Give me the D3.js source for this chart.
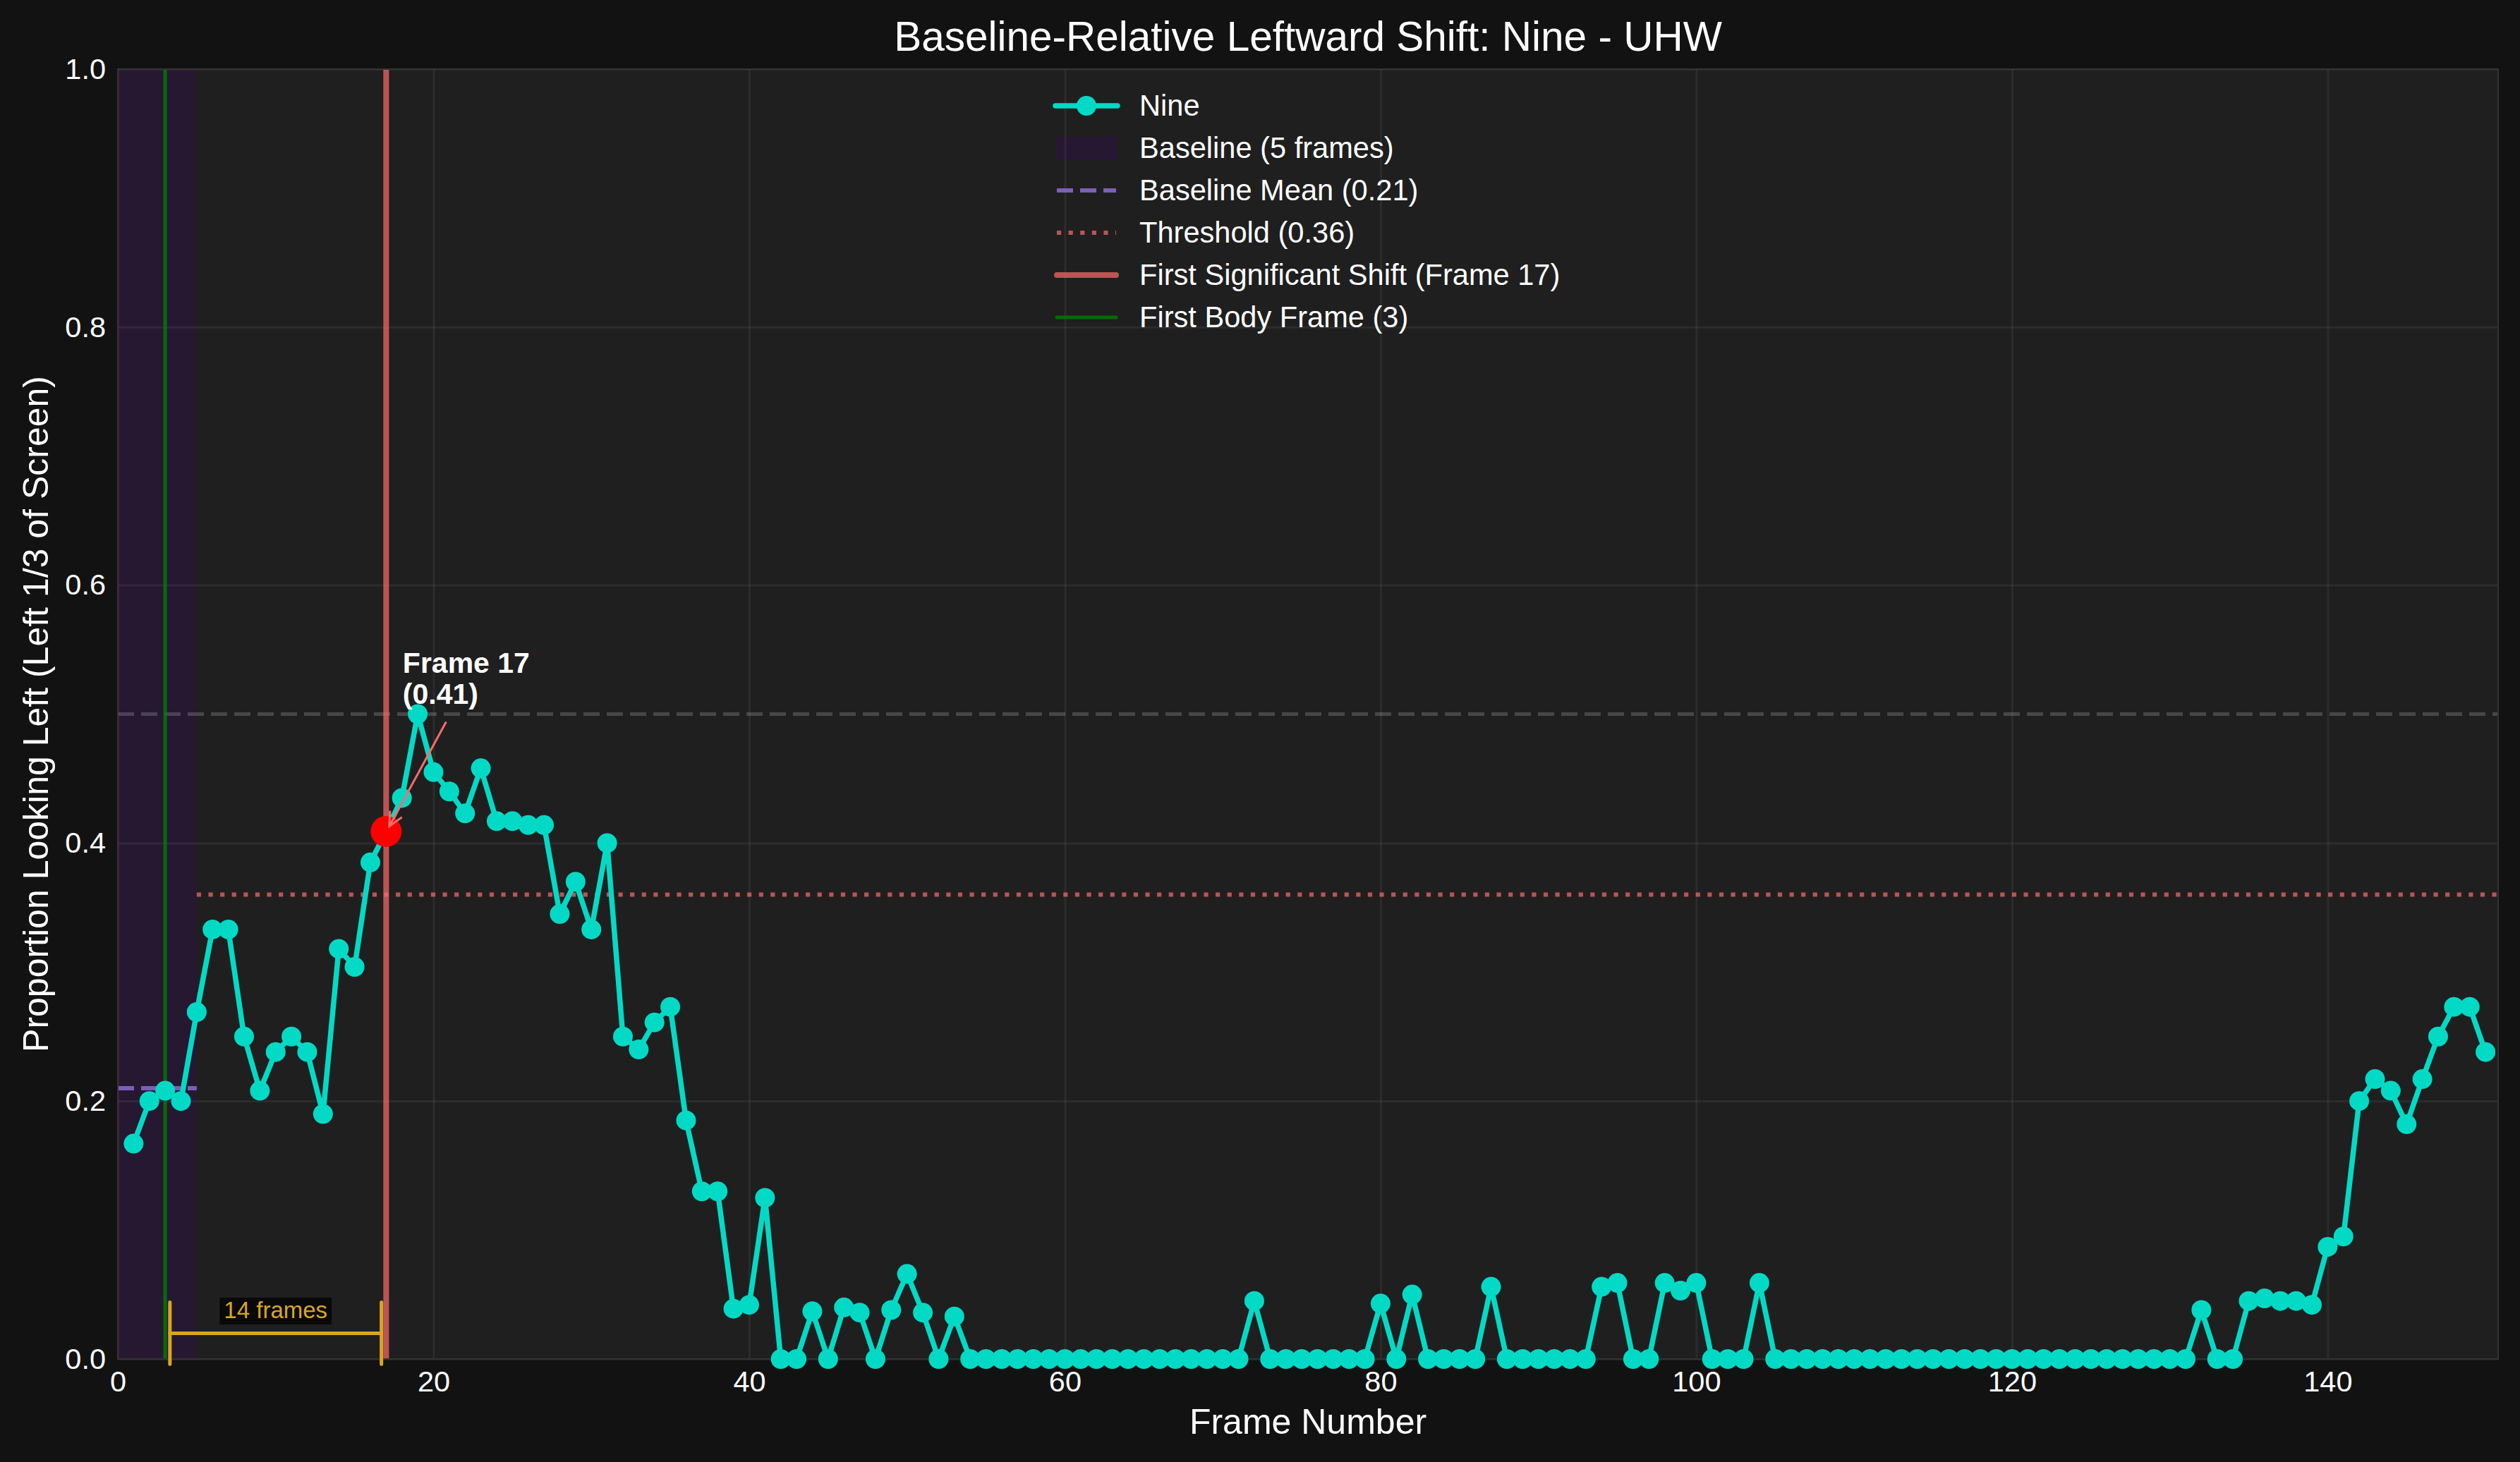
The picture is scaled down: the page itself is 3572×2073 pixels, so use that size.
<!DOCTYPE html>
<html>
<head>
<meta charset="utf-8">
<script src="https://cdn.jsdelivr.net/npm/d3@7"></script>
<style>
  html, body { margin: 0; padding: 0; background: #121212; }
  svg { display: block; font-family: "Liberation Sans", Arial, sans-serif; }
</style>
</head>
<body>
<div id="chart"></div>
<script>
// Proportion looking left, one value per frame (frame 1 .. 150)
var values = [
  0.167, 0.200, 0.208, 0.200, 0.269, 0.333, 0.333, 0.250, 0.208, 0.238,
  0.250, 0.238, 0.190, 0.318, 0.304, 0.385, 0.409, 0.435, 0.500, 0.455,
  0.440, 0.423, 0.458, 0.417, 0.417, 0.414, 0.414, 0.345, 0.370, 0.333,
  0.400, 0.250, 0.240, 0.261, 0.273, 0.185, 0.130, 0.130, 0.039, 0.042,
  0.125, 0, 0, 0.037, 0, 0.040, 0.036, 0, 0.038, 0.066,
  0.036, 0, 0.033, 0, 0, 0, 0, 0, 0, 0,
  0, 0, 0, 0, 0, 0, 0, 0, 0, 0,
  0, 0.045, 0, 0, 0, 0, 0, 0, 0, 0.043,
  0, 0.050, 0, 0, 0, 0, 0.056, 0, 0, 0,
  0, 0, 0, 0.056, 0.059, 0, 0, 0.059, 0.053, 0.059,
  0, 0, 0, 0.059, 0, 0, 0, 0, 0, 0,
  0, 0, 0, 0, 0, 0, 0, 0, 0, 0,
  0, 0, 0, 0, 0, 0, 0, 0, 0, 0,
  0, 0.038, 0, 0, 0.045, 0.047, 0.045, 0.045, 0.042, 0.087,
  0.095, 0.200, 0.217, 0.208, 0.182, 0.217, 0.250, 0.273, 0.273, 0.238
];
var firstFrame = 1;

var xTicks = [0, 20, 40, 60, 80, 100, 120, 140];
var yTicks = [0.0, 0.2, 0.4, 0.6, 0.8, 1.0];

var baselineFrames = 5;
var baselineMean = 0.21;
var threshold = 0.36;
var referenceLevel = 0.5;
var shiftFrame = 17;
var shiftValue = 0.41;
var bodyFrame = 3;

var legendLabels = [
  "Nine",
  "Baseline (5 frames)",
  "Baseline Mean (0.21)",
  "Threshold (0.36)",
  "First Significant Shift (Frame 17)",
  "First Body Frame (3)"
];

var titleText = "Baseline-Relative Leftward Shift: Nine - UHW";
var xLabel = "Frame Number";
var yLabel = "Proportion Looking Left (Left 1/3 of Screen)";

///////////////////////////////////////////////////////////////////////////
//////////////////////////////// Set up svg ///////////////////////////////
///////////////////////////////////////////////////////////////////////////

var W = 3572, H = 2073;
var margin = { top: 98, right: 31, bottom: 146, left: 167 };
var width = W - margin.left - margin.right;
var height = H - margin.top - margin.bottom;

var teal = "#03DAC6";
var salmon = "#ff6b6b";
var gold = "#DAA520";

var svgRoot = d3.select("#chart").append("svg")
  .attr("width", W)
  .attr("height", H);

svgRoot.append("rect").attr("width", W).attr("height", H).attr("fill", "#121212");

var svg = svgRoot.append("g")
  .attr("transform", "translate(" + margin.left + "," + margin.top + ")");

var x = d3.scaleLinear().domain([0, 150.8]).range([0, width]);
var y = d3.scaleLinear().domain([0, 1]).range([height, 0]);

var points = values.map(function(v, i) { return { frame: firstFrame + i, value: v }; });

//Plot background
svg.append("rect")
  .attr("width", width)
  .attr("height", height)
  .attr("fill", "#1f1f1f");

//Baseline shading
svg.append("rect")
  .attr("x", x(0))
  .attr("y", 0)
  .attr("width", x(baselineFrames) - x(0))
  .attr("height", height)
  .attr("fill", "#4B0082")
  .attr("fill-opacity", 0.2);

///////////////////////////////////////////////////////////////////////////
////////////////////////////////// Axes ///////////////////////////////////
///////////////////////////////////////////////////////////////////////////

var xAxis = svg.append("g")
  .attr("transform", "translate(0," + height + ")")
  .call(d3.axisBottom(x).tickValues(xTicks).tickSize(-height).tickPadding(17).tickFormat(d3.format("d")));

var yAxis = svg.append("g")
  .call(d3.axisLeft(y).tickValues(yTicks).tickSize(-width).tickPadding(17).tickFormat(d3.format(".1f")));

[xAxis, yAxis].forEach(function(a) {
  a.select(".domain").remove();
  a.selectAll(".tick line")
    .attr("stroke", "#ffffff")
    .attr("stroke-opacity", 0.06)
    .attr("stroke-width", 3);
  a.selectAll(".tick text")
    .attr("fill", "#ffffff")
    .style("font-size", "41.5px")
    .style("font-family", "'Liberation Sans', Arial, sans-serif");
});

///////////////////////////////////////////////////////////////////////////
///////////////////////////// Reference lines /////////////////////////////
///////////////////////////////////////////////////////////////////////////

//Gray dashed reference at 0.5
svg.append("line")
  .attr("x1", 0).attr("x2", width)
  .attr("y1", y(referenceLevel)).attr("y2", y(referenceLevel))
  .attr("stroke", "#ffffff")
  .attr("stroke-opacity", 0.18)
  .attr("stroke-width", 5)
  .attr("stroke-dasharray", "23,10");

//Baseline mean
svg.append("line")
  .attr("x1", x(0)).attr("x2", x(baselineFrames))
  .attr("y1", y(baselineMean)).attr("y2", y(baselineMean))
  .attr("stroke", "#9370DB")
  .attr("stroke-opacity", 0.8)
  .attr("stroke-width", 6)
  .attr("stroke-dasharray", "23,10");

//Threshold
svg.append("line")
  .attr("x1", x(baselineFrames)).attr("x2", width)
  .attr("y1", y(threshold)).attr("y2", y(threshold))
  .attr("stroke", salmon)
  .attr("stroke-opacity", 0.7)
  .attr("stroke-width", 6)
  .attr("stroke-dasharray", "6.2,10.4");

//First body frame
svg.append("line")
  .attr("x1", x(bodyFrame)).attr("x2", x(bodyFrame))
  .attr("y1", 0).attr("y2", height)
  .attr("stroke", "#008000")
  .attr("stroke-opacity", 0.8)
  .attr("stroke-width", 5);

//First significant shift
svg.append("line")
  .attr("x1", x(shiftFrame)).attr("x2", x(shiftFrame))
  .attr("y1", 0).attr("y2", height)
  .attr("stroke", salmon)
  .attr("stroke-opacity", 0.7)
  .attr("stroke-width", 8);

//Spines
svg.append("rect")
  .attr("width", width)
  .attr("height", height)
  .attr("fill", "none")
  .attr("stroke", "#333333")
  .attr("stroke-width", 2);

///////////////////////////////////////////////////////////////////////////
/////////////////////////////// Data series ///////////////////////////////
///////////////////////////////////////////////////////////////////////////

var line = d3.line()
  .x(function(d) { return x(d.frame); })
  .y(function(d) { return y(d.value); });

svg.append("path")
  .datum(points)
  .attr("d", line)
  .attr("fill", "none")
  .attr("stroke", teal)
  .attr("stroke-width", 7.5)
  .attr("stroke-linejoin", "round");

svg.selectAll(".dot")
  .data(points)
  .enter().append("circle")
  .attr("class", "dot")
  .attr("cx", function(d) { return x(d.frame); })
  .attr("cy", function(d) { return y(d.value); })
  .attr("r", 14)
  .attr("fill", teal);

//Highlight the first significant shift
svg.append("circle")
  .attr("cx", x(shiftFrame))
  .attr("cy", y(values[shiftFrame - firstFrame]))
  .attr("r", 22)
  .attr("fill", "#ff0000");

///////////////////////////////////////////////////////////////////////////
/////////////////////////////// Annotations ///////////////////////////////
///////////////////////////////////////////////////////////////////////////

//Arrow to the shift point
var ax1 = x(20.8), ay1 = y(0.494), ax2 = x(17.2), ay2 = y(0.413);
svg.append("line")
  .attr("x1", ax1).attr("y1", ay1).attr("x2", ax2).attr("y2", ay2)
  .attr("stroke", salmon)
  .attr("stroke-width", 3);
var ang = Math.atan2(ay2 - ay1, ax2 - ax1);
var headLen = 22, spread = 0.45;
svg.append("path")
  .attr("d", "M" + (ax2 - headLen * Math.cos(ang - spread)) + "," + (ay2 - headLen * Math.sin(ang - spread)) +
             "L" + ax2 + "," + ay2 +
             "L" + (ax2 - headLen * Math.cos(ang + spread)) + "," + (ay2 - headLen * Math.sin(ang + spread)))
  .attr("fill", "none")
  .attr("stroke", salmon)
  .attr("stroke-width", 3);

var annot = svg.append("text")
  .attr("x", x(18.05))
  .attr("y", y(0.508))
  .attr("fill", "#ffffff")
  .style("font-size", "41px")
  .style("font-weight", "bold");
annot.append("tspan").attr("x", x(18.05)).attr("dy", "-44px").text("Frame " + shiftFrame);
annot.append("tspan").attr("x", x(18.05)).attr("dy", "44px").text("(" + shiftValue.toFixed(2) + ")");

//Latency bracket
var bx1 = x(bodyFrame + 0.3), bx2 = x(shiftFrame - 0.3);
var bracket = svg.append("g")
  .attr("stroke", gold)
  .attr("stroke-width", 5)
  .attr("stroke-linecap", "round");
bracket.append("line").attr("x1", bx1).attr("x2", bx2).attr("y1", y(0.02)).attr("y2", y(0.02));
bracket.append("line").attr("x1", bx1).attr("x2", bx1).attr("y1", y(0.044)).attr("y2", y(-0.004));
bracket.append("line").attr("x1", bx2).attr("x2", bx2).attr("y1", y(0.044)).attr("y2", y(-0.004));

var latency = shiftFrame - bodyFrame;
var bxc = x((bodyFrame + shiftFrame) / 2);
var lblText = svg.append("text")
  .attr("x", bxc)
  .attr("y", y(0.038))
  .attr("dy", "0.35em")
  .attr("text-anchor", "middle")
  .attr("fill", gold)
  .style("font-size", "33px")
  .text(latency + " frames");
var bb = lblText.node().getBBox();
svg.insert("rect", function() { return lblText.node(); })
  .attr("x", bb.x - 6)
  .attr("y", bb.y + 1)
  .attr("width", bb.width + 12)
  .attr("height", bb.height + 1)
  .attr("fill", "#000000")
  .attr("fill-opacity", 0.7);

///////////////////////////////////////////////////////////////////////////
////////////////////////////////// Legend /////////////////////////////////
///////////////////////////////////////////////////////////////////////////

var legend = svgRoot.append("g").attr("transform", "translate(1496,150)");
var rowH = 60;
legendLabels.forEach(function(label, i) {
  var row = legend.append("g").attr("transform", "translate(0," + (i * rowH) + ")");
  if (i === 0) {
    row.append("line").attr("x1", 0).attr("x2", 88).attr("y1", 0).attr("y2", 0)
      .attr("stroke", teal).attr("stroke-width", 7.5).attr("stroke-linecap", "round");
    row.append("circle").attr("cx", 44).attr("cy", 0).attr("r", 14).attr("fill", teal);
  } else if (i === 1) {
    row.append("rect").attr("x", 1).attr("y", -15).attr("width", 85).attr("height", 31)
      .attr("fill", "#4B0082").attr("fill-opacity", 0.2)
      .attr("stroke", "#4B0082").attr("stroke-opacity", 0.3).attr("stroke-width", 1);
  } else if (i === 2) {
    row.append("line").attr("x1", 2).attr("x2", 86).attr("y1", 0).attr("y2", 0)
      .attr("stroke", "#9370DB").attr("stroke-opacity", 0.8).attr("stroke-width", 6)
      .attr("stroke-dasharray", "23,10");
  } else if (i === 3) {
    row.append("line").attr("x1", 2).attr("x2", 86).attr("y1", 0).attr("y2", 0)
      .attr("stroke", salmon).attr("stroke-opacity", 0.7).attr("stroke-width", 6)
      .attr("stroke-dasharray", "6.2,10.4");
  } else if (i === 4) {
    row.append("line").attr("x1", 2).attr("x2", 86).attr("y1", 0).attr("y2", 0)
      .attr("stroke", salmon).attr("stroke-opacity", 0.7).attr("stroke-width", 8)
      .attr("stroke-linecap", "round");
  } else {
    row.append("line").attr("x1", 2).attr("x2", 86).attr("y1", 0).attr("y2", 0)
      .attr("stroke", "#008000").attr("stroke-opacity", 0.8).attr("stroke-width", 5)
      .attr("stroke-linecap", "round");
  }
  row.append("text")
    .attr("x", 119)
    .attr("y", 14)
    .attr("fill", "#ffffff")
    .style("font-size", "41.6px")
    .text(label);
});

///////////////////////////////////////////////////////////////////////////
////////////////////////////// Titles, labels /////////////////////////////
///////////////////////////////////////////////////////////////////////////

svgRoot.append("text")
  .attr("x", margin.left + width / 2)
  .attr("y", 72)
  .attr("text-anchor", "middle")
  .attr("fill", "#ffffff")
  .style("font-size", "58.5px")
  .text(titleText);

svgRoot.append("text")
  .attr("x", margin.left + width / 2)
  .attr("y", 2033)
  .attr("text-anchor", "middle")
  .attr("fill", "#ffffff")
  .style("font-size", "50px")
  .text(xLabel);

svgRoot.append("text")
  .attr("transform", "translate(68," + (margin.top + height / 2) + ") rotate(-90)")
  .attr("text-anchor", "middle")
  .attr("fill", "#ffffff")
  .style("font-size", "50px")
  .text(yLabel);
</script>
</body>
</html>
